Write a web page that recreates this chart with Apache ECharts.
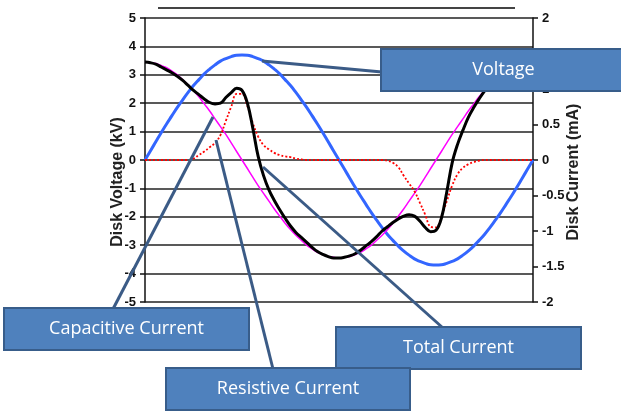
<!DOCTYPE html>
<html>
<head>
<meta charset="utf-8">
<script src="https://cdn.jsdelivr.net/npm/echarts@6/dist/echarts.min.js"></script>
<style>
html,body{margin:0;padding:0;background:#fff;}
#c{width:621px;height:413px;}
</style>
</head>
<body>
<div id="c"></div>
<script>
// phase angle (degrees) – one cycle
const angles = [0,5,10,15,20,25,30,35,40,45,50,55,60,65,70,75,80,85,90,95,100,105,110,115,120,125,130,135,140,145,150,155,160,165,170,175,180,185,190,195,200,205,210,215,220,225,230,235,240,245,250,255,260,265,270,275,280,285,290,295,300,305,310,315,320,325,330,335,340,345,350,355,360];
// Disk voltage (kV)
const voltage = [0,0.32,0.64,0.96,1.27,1.56,1.85,2.12,2.38,2.62,2.83,3.03,3.20,3.35,3.48,3.57,3.64,3.69,3.70,3.69,3.64,3.57,3.48,3.35,3.20,3.03,2.83,2.62,2.38,2.12,1.85,1.56,1.27,0.96,0.64,0.32,0,-0.32,-0.64,-0.96,-1.27,-1.56,-1.85,-2.12,-2.38,-2.62,-2.83,-3.03,-3.20,-3.35,-3.48,-3.57,-3.64,-3.69,-3.70,-3.69,-3.64,-3.57,-3.48,-3.35,-3.20,-3.03,-2.83,-2.62,-2.38,-2.12,-1.85,-1.56,-1.27,-0.96,-0.64,-0.32,0];
// Capacitive current (mA)
const capacitive = [1.38,1.37,1.36,1.33,1.30,1.25,1.20,1.13,1.06,0.98,0.89,0.79,0.69,0.58,0.47,0.36,0.24,0.12,0,-0.12,-0.24,-0.36,-0.47,-0.58,-0.69,-0.79,-0.89,-0.98,-1.06,-1.13,-1.20,-1.25,-1.30,-1.33,-1.36,-1.37,-1.38,-1.37,-1.36,-1.33,-1.30,-1.25,-1.20,-1.13,-1.06,-0.98,-0.89,-0.79,-0.69,-0.58,-0.47,-0.36,-0.24,-0.12,0,0.12,0.24,0.36,0.47,0.58,0.69,0.79,0.89,0.98,1.06,1.13,1.20,1.25,1.30,1.33,1.36,1.37,1.38];
// Resistive current (mA)
const resistive = [0,0,0,0,0,0,0,0,0,0.02,0.07,0.12,0.18,0.24,0.35,0.55,0.75,0.93,0.93,0.76,0.52,0.33,0.21,0.15,0.10,0.07,0.05,0.04,0.02,0.01,0,0,0,0,0,0,0,0,0,0,0,0,0,0,0,-0.01,-0.04,-0.10,-0.22,-0.33,-0.44,-0.60,-0.77,-0.94,-0.95,-0.80,-0.58,-0.36,-0.20,-0.11,-0.06,-0.03,-0.01,0,0,0,0,0,0,0,0,0,0];
// Total current (mA)
const total = [1.38,1.37,1.35,1.31,1.27,1.23,1.18,1.12,1.05,0.98,0.92,0.86,0.81,0.79,0.80,0.88,0.95,1.01,0.98,0.80,0.45,0.05,-0.22,-0.42,-0.57,-0.70,-0.82,-0.93,-1.02,-1.09,-1.16,-1.23,-1.29,-1.33,-1.36,-1.38,-1.38,-1.37,-1.35,-1.32,-1.27,-1.21,-1.15,-1.08,-1.00,-0.94,-0.88,-0.83,-0.79,-0.77,-0.79,-0.86,-0.95,-1.01,-0.99,-0.82,-0.45,-0.04,0.22,0.42,0.60,0.74,0.86,0.97,1.06,1.13,1.20,1.25,1.30,1.33,1.36,1.37,1.38];
// callout texts
const callouts = ['Voltage','Capacitive Current','Total Current','Resistive Current'];

const pairs = arr => angles.map((a,i)=>[a,arr[i]]);
const chart = echarts.init(document.getElementById('c'));
const labelFont = {fontFamily:'"Liberation Sans",Arial,sans-serif',fontWeight:'bold',fontSize:13,color:'#111'};
const titleFont = {fontFamily:'"Liberation Sans",Arial,sans-serif',fontWeight:'bold',fontSize:16,color:'#222'};
const boxFill='#4F81BD', boxStroke='#385D8A', leader='#3B5B86';
const boxText = {fontFamily:'"Open Sans","Liberation Sans",Arial,sans-serif',fontSize:18,fill:'#fff'};

function box(x,y,w,h,text,z){
  return {type:'group',x:x,y:y,z:z,children:[
    {type:'rect',z:z,shape:{x:0,y:0,width:w,height:h},style:{fill:boxFill,stroke:boxStroke,lineWidth:2}},
    {type:'text',z:z+1,x:w/2,y:h/2,style:Object.assign({text:text,align:'center',verticalAlign:'middle'},boxText)}
  ]};
}
function line(x1,y1,x2,y2){
  return {type:'line',z:150,shape:{x1:x1,y1:y1,x2:x2,y2:y2},style:{stroke:leader,lineWidth:3}};
}

chart.setOption({
  animation:false,
  backgroundColor:'#fff',
  grid:{left:145,right:88,top:18,bottom:111},
  xAxis:{type:'value',min:0,max:360,show:false},
  yAxis:[
    {type:'value',min:-5,max:5,interval:1,position:'left',
     name:'Disk Voltage (kV)',nameLocation:'middle',nameGap:19,nameRotate:90,nameMoveOverlap:false,
     nameTextStyle:Object.assign({padding:[0,44,0,0]},titleFont),
     axisLine:{show:true,lineStyle:{color:'#111',width:1.5}},
     axisTick:{show:true,length:5,lineStyle:{color:'#111',width:1.5}},
     axisLabel:Object.assign({margin:9},labelFont),
     splitLine:{show:true,lineStyle:{color:'#222',width:1.6}}},
    {type:'value',min:-2,max:2,interval:0.5,position:'right',
     name:'Disk Current (mA)',nameLocation:'middle',nameGap:33,nameRotate:90,nameMoveOverlap:false,
     nameTextStyle:Object.assign({padding:[0,24,0,0]},titleFont),
     axisLine:{show:true,lineStyle:{color:'#111',width:1.5}},
     axisTick:{show:true,length:5,lineStyle:{color:'#111',width:1.5}},
     axisLabel:Object.assign({margin:9},labelFont),
     splitLine:{show:false}}
  ],
  series:[
    {name:'Voltage',type:'line',yAxisIndex:0,data:pairs(voltage),smooth:true,showSymbol:false,
     lineStyle:{color:'#3366FF',width:3},z:2},
    {name:'Capacitive Current',type:'line',yAxisIndex:1,data:pairs(capacitive),smooth:true,showSymbol:false,
     lineStyle:{color:'#FF00FF',width:1.5},z:3},
    {name:'Resistive Current',type:'line',yAxisIndex:1,data:pairs(resistive),smooth:0.4,showSymbol:false,
     lineStyle:{color:'#FF0000',width:1.8,type:[2,2]},z:4},
    {name:'Total Current',type:'line',yAxisIndex:1,data:pairs(total),smooth:0.4,showSymbol:false,
     lineStyle:{color:'#000',width:3},z:5}
  ],
  graphic:[
    {type:'line',z:100,shape:{x1:158,y1:8,x2:515,y2:8},style:{stroke:'#444',lineWidth:2}},
    line(262,61,382,72),
    line(213,117,113,309),
    line(216,140,273,369),
    line(263,167,443,328),
    box(381,49,245,42,callouts[0],200),
    box(4,308,245,42,callouts[1],200),
    box(336,327,245,42,callouts[2],200),
    box(166,368,244,42,callouts[3],210)
  ]
});
</script>
</body>
</html>
